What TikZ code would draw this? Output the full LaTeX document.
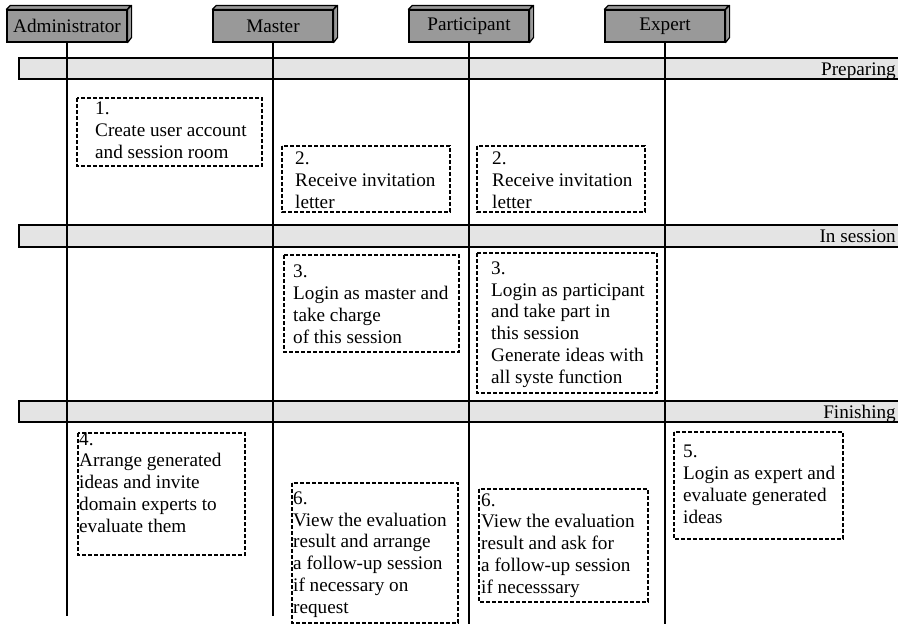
\documentclass[tikz,border=0pt]{standalone}
\usepackage{fontspec}
\setmainfont{Liberation Serif}
\usetikzlibrary{positioning}

\definecolor{headgray}{RGB}{153,153,153}
\definecolor{bargray}{RGB}{228,228,228}

\tikzset{
  actorbox/.style={draw, fill=headgray, line width=1.2pt, minimum width=120pt,
    minimum height=32pt, inner sep=0pt, font=\fontsize{19.2}{21.7}\selectfont},
  actorface/.style={draw, fill=headgray, line width=1.2pt, line join=round},
  lifeline/.style={line width=2.4pt},
  phasebar/.style={draw, fill=bargray, line width=1.4pt},
  phaselabel/.style={anchor=base east, inner sep=0pt, font=\fontsize{19.2}{21.7}\selectfont},
  stepbox/.style={draw, dash pattern=on 4pt off 2pt, line width=1.9pt},
  steptext/.style={align=left, inner sep=0pt, anchor=base west,
    font=\fontsize{19.2}{21.7}\selectfont},
}

\begin{document}
\begin{tikzpicture}[x=1pt,y=-1pt]
    \useasboundingbox (0,0) rectangle (898,624);

    % phases
    \draw[phasebar] (19,58) rectangle (906,79);
    \draw[phasebar] (19,225) rectangle (906,247);
    \draw[phasebar] (19,401) rectangle (906,422);
    \node[phaselabel] (prep) at (896,75) {Preparing};
    \node[phaselabel] (insess) at (896,242) {In session};
    \node[phaselabel] (finish) at (896,418) {Finishing};

    % actors and lifelines
    \foreach \nm/\xc/\yend/\lbl in {adm/67/616/Administrator, mas/273/616/Master,
        par/469/626/Participant, exp/665/626/Expert} {
      \coordinate (\nm-end) at (\xc,\yend);
      \node[actorbox] (\nm) at (\xc,26) {\lbl};
      \draw[lifeline] (\nm.south) -- (\nm-end);
      \draw[actorface] (\nm.north west) -- ++(4,-4) -- ++(120,0) -- (\nm.north east) -- cycle;
      \draw[actorface] (\nm.north east) -- ++(4,-4) -- ++(0,32) -- (\nm.south east) -- cycle;
    }

    % steps (text placed at the baseline of its last line)
    \draw[stepbox] (77,98) rectangle (262,166);
    \node[steptext] (s1) at (95,158) {1.\\Create user account\\and session room};

    \draw[stepbox] (282,146) rectangle (450,212);
    \node[steptext] (s2m) at (295,208) {2.\\Receive invitation\\letter};
    \draw[stepbox] (477,146) rectangle (645,212);
    \node[steptext] (s2p) at (492,208) {2.\\Receive invitation\\letter};

    \draw[stepbox] (284,255) rectangle (459,352);
    \node[steptext] (s3m) at (293,343) {3.\\Login as master and\\take charge\\of this session};
    \draw[stepbox] (477,253) rectangle (657,393);
    \node[steptext] (s3p) at (491,383) {3.\\Login as participant\\and take part in\\this session\\Generate ideas with\\all syste function};

    \draw[stepbox] (78,433) rectangle (245,555);
    \node[steptext] (s4) at (79,532) {4.\\Arrange generated\\ideas and invite\\domain experts to\\evaluate them};

    \draw[stepbox] (674,432) rectangle (843,539);
    \node[steptext] (s5) at (683,523) {5.\\Login as expert and\\evaluate generated\\ideas};

    \draw[stepbox] (292,483) rectangle (458,623);
    \node[steptext] (s6m) at (293,613) {6.\\View the evaluation\\result and arrange\\a follow-up session\\if necessary on\\request};
    \draw[stepbox] (479,489) rectangle (648,602);
    \node[steptext] (s6p) at (481,593) {6.\\View the evaluation\\result and ask for\\a follow-up session\\if necesssary};
\end{tikzpicture}
\end{document}
